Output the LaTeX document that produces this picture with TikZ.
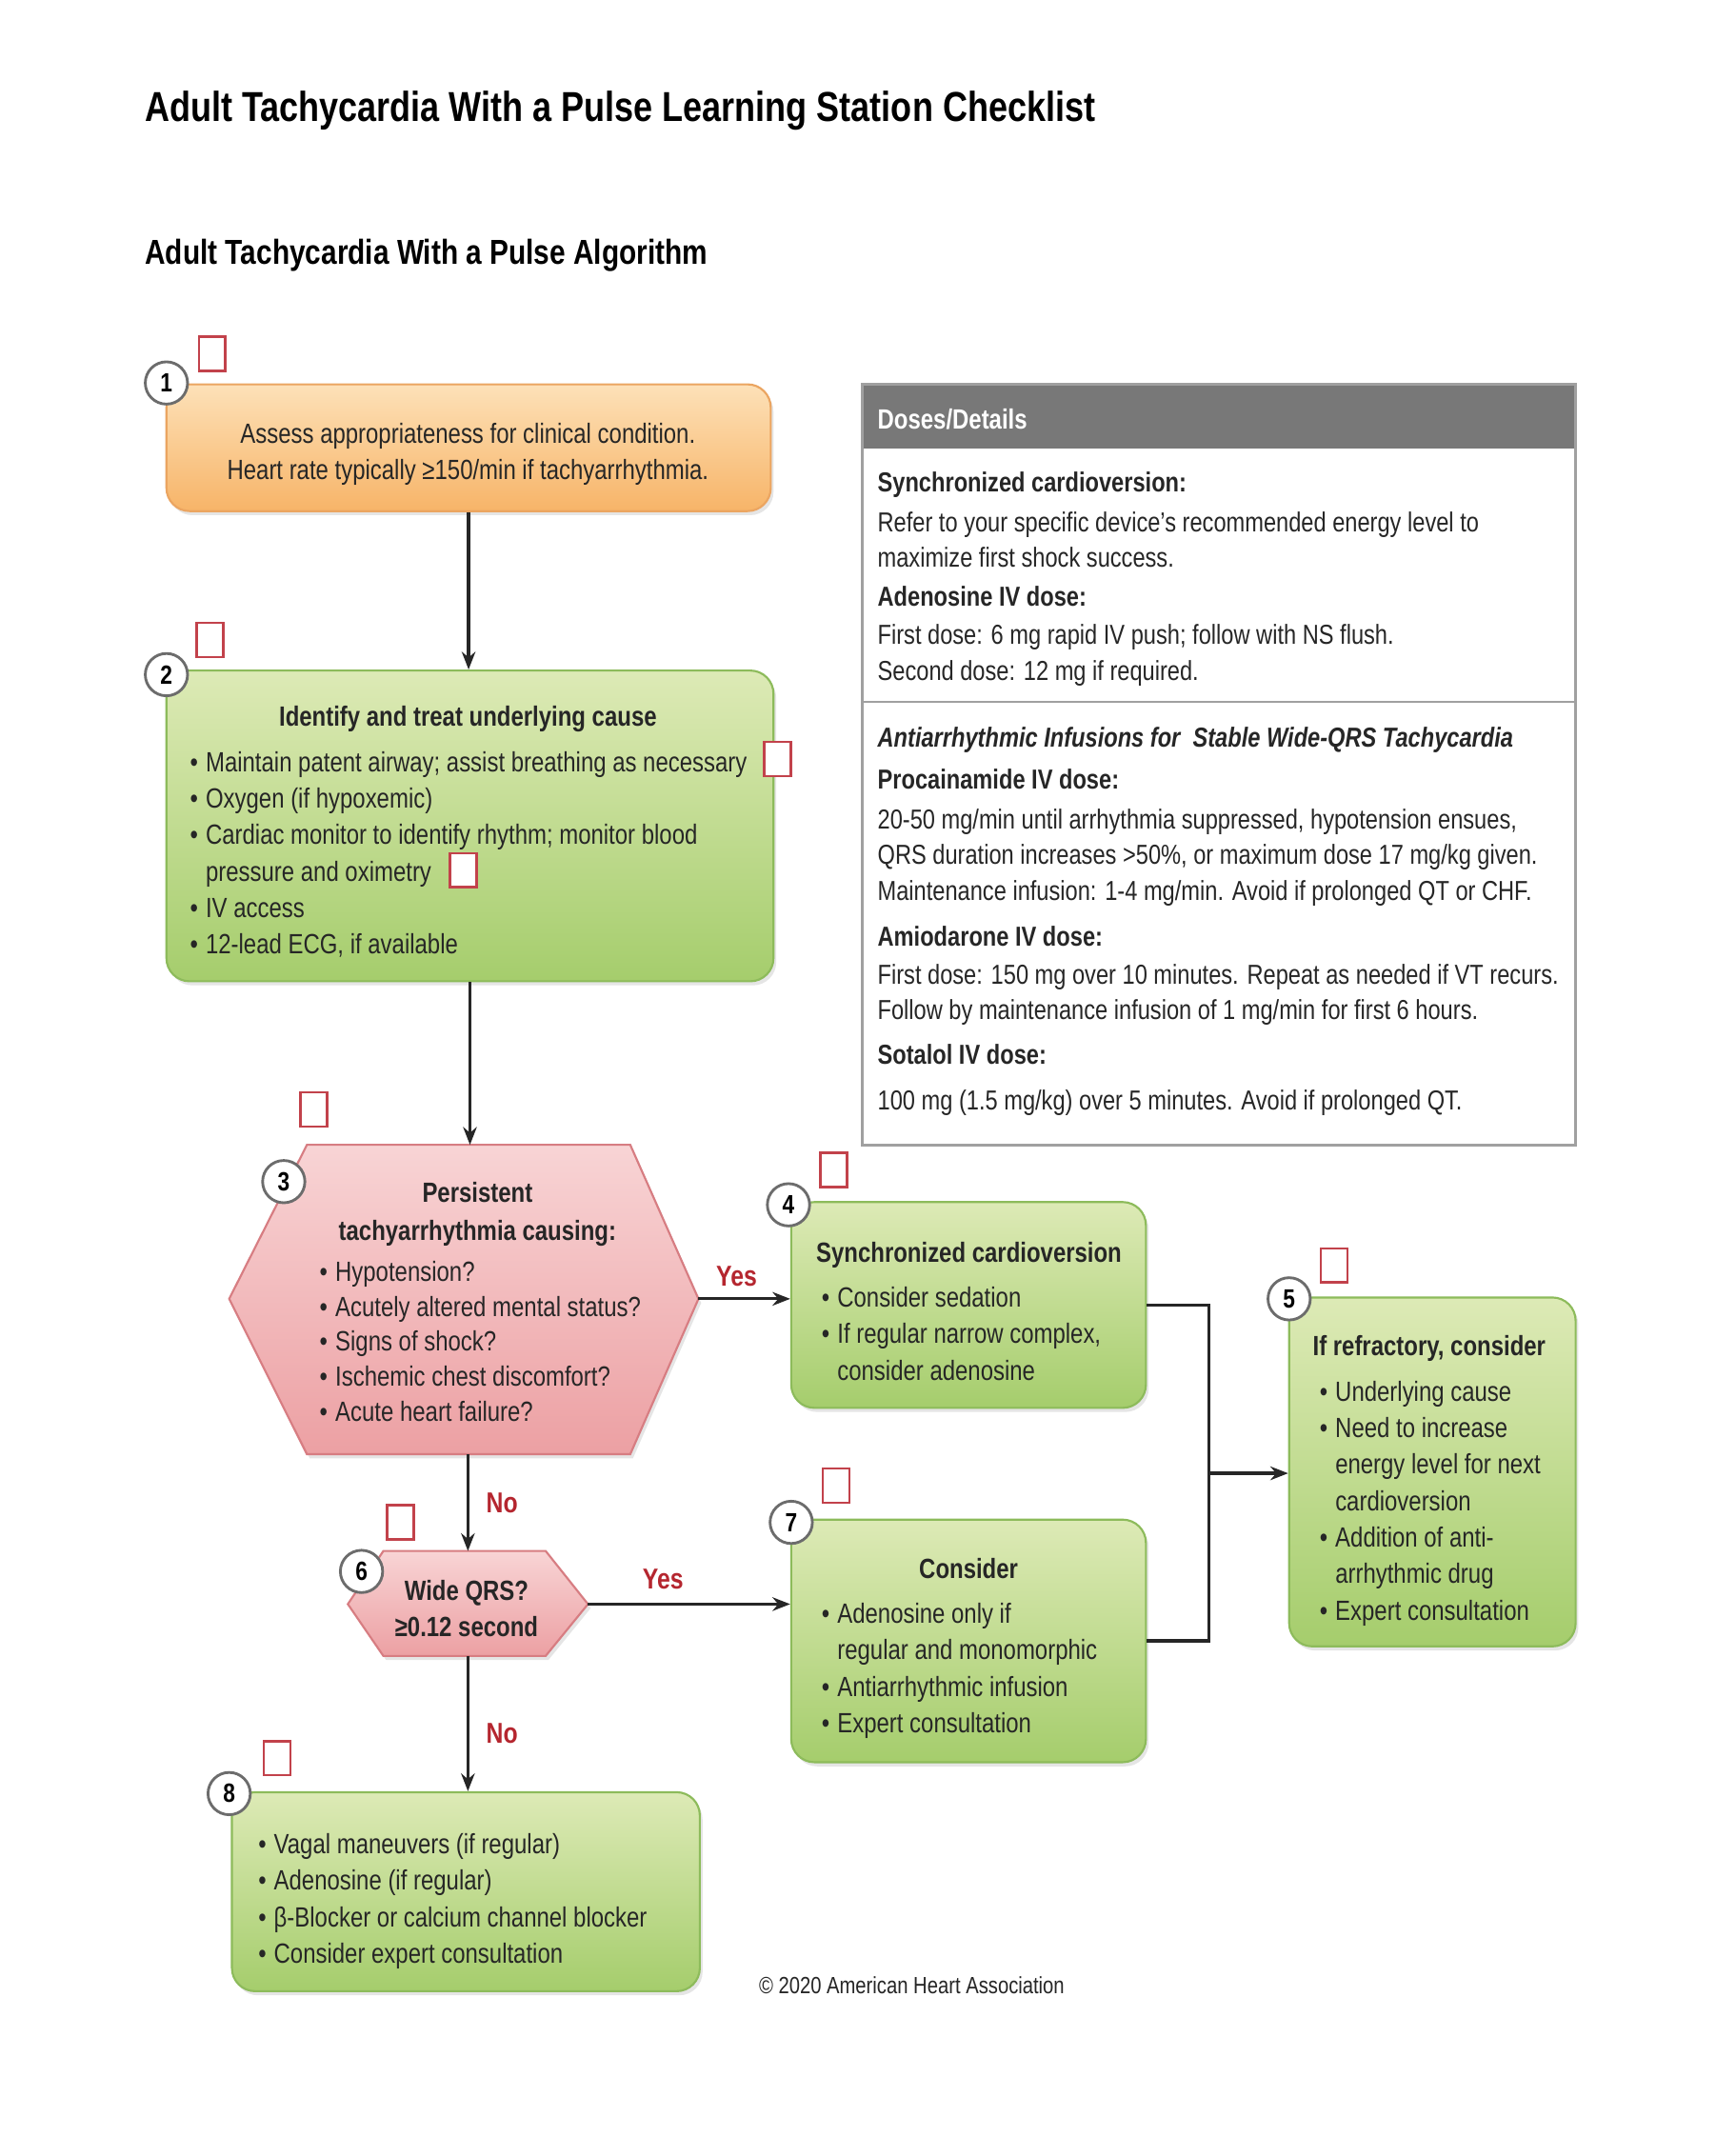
\documentclass[tikz,border=0pt]{standalone}
\usepackage{fontspec}
\setmainfont{Liberation Sans}[FakeStretch=0.82]
\usetikzlibrary{arrows.meta,fit,shadows}

\definecolor{ahared}{HTML}{B5262F}
\definecolor{chkred}{HTML}{C2424B}
\definecolor{orangetop}{HTML}{FDE1B8}
\definecolor{orangebot}{HTML}{F7B468}
\definecolor{orangeline}{HTML}{EBA561}
\definecolor{greentop}{HTML}{DDEAB6}
\definecolor{greenbot}{HTML}{A5CD6C}
\definecolor{greenline}{HTML}{8DBB5B}
\definecolor{pinktop}{HTML}{F8D4D5}
\definecolor{pinkbot}{HTML}{ECA0A3}
\definecolor{pinkline}{HTML}{D77D82}
\definecolor{headgray}{HTML}{787878}
\definecolor{framegray}{HTML}{A0A0A0}
\definecolor{inkgray}{HTML}{262626}

\newcommand{\bodysize}{\fontsize{11.6pt}{15.2pt}\selectfont}
\newcommand{\dosesize}{\fontsize{11.45pt}{15pt}\selectfont}
\newcommand{\bul}{\makebox[2.3mm][l]{•}}
\newcommand{\ind}{\hspace*{2.3mm}}
\newcommand{\firstline}{\rule{0pt}{9pt}}

\begin{document}
\begin{tikzpicture}[x=0.2mm, y=-0.1998mm,
    every node/.style={font=\bodysize, text=inkgray, inner sep=0pt},
    box/.style={rounded corners=3.4mm, line width=0.3mm,
        drop shadow={opacity=0.2, shadow xshift=0.4mm, shadow yshift=-0.6mm}},
    orangebox/.style={box, draw=orangeline, top color=orangetop, bottom color=orangebot},
    greenbox/.style={box, draw=greenline, top color=greentop, bottom color=greenbot},
    hexfill/.style={draw=pinkline, line width=0.3mm, top color=pinktop, bottom color=pinkbot,
        drop shadow={opacity=0.2, shadow xshift=0.4mm, shadow yshift=-0.6mm}},
    num/.style={circle, draw=gray!85!black, line width=0.4mm, fill=white, minimum size=6.2mm,
        font=\bfseries\fontsize{11pt}{11pt}\selectfont, text=black},
    chk/.style={draw=chkred, line width=0.35mm, fill=white, minimum width=3.9mm, minimum height=5mm},
    title/.style={font=\bfseries\bodysize, anchor=base},
    block/.style={align=center, anchor=north, execute at begin node=\firstline},
    list/.style={align=left, anchor=north west, execute at begin node=\firstline},
    answer/.style={font=\bfseries\fontsize{12pt}{12pt}\selectfont, text=ahared, anchor=base},
    line/.style={draw=inkgray, line width=0.45mm},
    arrow/.style={line, -{Stealth[length=2.6mm, width=2mm]}}]

    \path[use as bounding box, fill=white] (0,0) rectangle (1272,1568);

    % headings
    \node[font=\bfseries\fontsize{17.45pt}{20pt}\selectfont, text=black, anchor=base west] (maintitle) at (106,89)
        {Adult Tachycardia With a Pulse Learning Station Checklist};
    \node[font=\bfseries\fontsize{14.45pt}{16pt}\selectfont, text=black, anchor=base west] (subtitle) at (106,194)
        {Adult Tachycardia With a Pulse Algorithm};

    % boxes
    \node[orangebox, fit={(122,282) (565,375)}] (b1) {};
    \node[greenbox, fit={(122,492) (567,720)}] (b2) {};
    \node[greenbox, fit={(580,882) (840,1033)}] (b4) {};
    \node[greenbox, fit={(945,952) (1155,1208)}] (b5) {};
    \node[greenbox, fit={(580,1115) (840,1293)}] (b7) {};
    \node[greenbox, fit={(170,1315) (513,1461)}] (b8) {};

    % decision hexagons
    \coordinate (h3w) at (168,953);  \coordinate (h3e) at (512,953);
    \coordinate (h3n) at (343,840);  \coordinate (h3s) at (343,1067);
    \path[hexfill] (h3w) -- (225,840) -- (462,840) -- (h3e) -- (462,1067) -- (225,1067) -- cycle;
    \coordinate (h6w) at (255,1177); \coordinate (h6e) at (431,1177);
    \coordinate (h6n) at (343,1138); \coordinate (h6s) at (343,1215);
    \path[hexfill] (h6w) -- (281,1138) -- (400,1138) -- (h6e) -- (400,1215) -- (281,1215) -- cycle;

    % box texts
    \node[block] (t1) at (343,310)
        {Assess appropriateness for clinical condition.\\Heart rate typically ≥150/min if tachyarrhythmia.};
    \node[title] (t2) at (343,533) {Identify and treat underlying cause};
    \node[list] (l2) at (139,551) {\bul Maintain patent airway; assist breathing as necessary\\\bul Oxygen (if hypoxemic)\\\bul Cardiac monitor to identify rhythm; monitor blood\\\ind pressure and oximetry\\\bul IV access\\\bul 12-lead ECG, if available};
    \node[block, font=\bfseries\fontsize{11.6pt}{16pt}\selectfont] (t3) at (350,867)
        {Persistent\\tachyarrhythmia causing:};
    \node[list, font=\fontsize{11.6pt}{14.6pt}\selectfont] (l3) at (234,925) {\bul Hypotension?\\\bul Acutely altered mental status?\\\bul Signs of shock?\\\bul Ischemic chest discomfort?\\\bul Acute heart failure?};
    \node[title, anchor=base west] (t4) at (598,926) {Synchronized cardioversion};
    \node[list] (l4) at (602,944) {\bul Consider sedation\\\bul If regular narrow complex,\\\ind consider adenosine};
    \node[title, anchor=base west] (t5) at (962,995) {If refractory, consider};
    \node[list] (l5) at (967,1013) {\bul Underlying cause\\\bul Need to increase\\\ind energy level for next\\\ind cardioversion\\\bul Addition of anti-\\\ind arrhythmic drug\\\bul Expert consultation};
    \node[block, font=\bfseries\fontsize{11.6pt}{15pt}\selectfont] (t6) at (342,1159) {Wide QRS?\\≥0.12 second};
    \node[title] (t7) at (710,1158) {Consider};
    \node[list] (l7) at (602,1176) {\bul Adenosine only if\\\ind regular and monomorphic\\\bul Antiarrhythmic infusion\\\bul Expert consultation};
    \node[list] (l8) at (189,1345) {\bul Vagal maneuvers (if regular)\\\bul Adenosine (if regular)\\\bul β-Blocker or calcium channel blocker\\\bul Consider expert consultation};

    % doses panel
    \node[fill=headgray, fit={(632,282) (1155,329)}] (dhead) {};
    \node[draw=framegray, line width=0.4mm, fit={(632,282) (1155,840)}] (dose) {};
    \draw[framegray, line width=0.4mm] (632,515) -- (1155,515);
    \node[anchor=base west, font=\bfseries\bodysize, text=white] (dheadtext) at (643,315) {Doses/Details};
    \foreach \y/\t [count=\i] in {361/{Synchronized cardioversion:}, 445/{Adenosine IV dose:},
        579/{Procainamide IV dose:}, 694/{Amiodarone IV dose:}, 781/{Sotalol IV dose:}}
        \node[anchor=base west, font=\bfseries\dosesize] (dh\i) at (643,\y) {\t};
    \node[list, font=\dosesize] (d1) at (643,375) {Refer to your specific device’s recommended energy level to\\maximize first shock success.};
    \node[list, font=\dosesize] (d2) at (643,458) {First dose: 6 mg rapid IV push; follow with NS flush.\\Second dose: 12 mg if required.};
    \node[list, font=\bfseries\itshape\dosesize] (d3) at (643,532) {Antiarrhythmic Infusions for \ Stable Wide-QRS Tachycardia};
    \node[list, font=\dosesize] (d4) at (643,593) {20-50 mg/min until arrhythmia suppressed, hypotension ensues,\\QRS duration increases >50\%, or maximum dose 17 mg/kg given.\\Maintenance infusion: 1-4 mg/min. Avoid if prolonged QT or CHF.};
    \node[list, font=\dosesize] (d5) at (643,707) {First dose: 150 mg over 10 minutes. Repeat as needed if VT recurs.\\Follow by maintenance infusion of 1 mg/min for first 6 hours.};
    \node[list, font=\dosesize] (d6) at (643,798) {100 mg (1.5 mg/kg) over 5 minutes. Avoid if prolonged QT.};

    % connectors
    \draw[arrow] (b1.south) -- (b1.south |- b2.north);
    \draw[arrow] (b2.south) -- (b2.south |- h3n);
    \draw[arrow] (h3e) -- (h3e -| b4.west);
    \node[answer] (yes1) at (540,944) {Yes};
    \draw[arrow] (h3s) -- (h6n);
    \node[answer] (no1) at (368,1110) {No};
    \draw[arrow] (h6e) -- (h6e -| b7.west);
    \node[answer] (yes2) at (486,1166) {Yes};
    \draw[arrow] (h6s) -- (h6s |- b8.north);
    \node[answer] (no2) at (368,1279) {No};
    \coordinate (merge) at (886,1081);
    \draw[line] (b4.east) -| (merge) |- (b7.east);
    \draw[arrow] (merge) -- (merge -| b5.west);

    % step numbers and check boxes
    \foreach \i/\x/\y in {1/122/281, 2/122/495, 3/208/867, 4/578/884, 5/945/953, 6/265/1153, 7/580/1117, 8/168/1316}
        \node[num] (n\i) at (\x,\y) {\i};
    \foreach \k/\x/\y in {1/155.5/259.5, 2/154/469.5, 2a/570/557, 2b/339.5/638.5, 3/230/814,
        4/611/858.5, 5/978/928.5, 6/293.5/1117, 7/613/1090, 8/203/1290}
        \node[chk] (k\k) at (\x,\y) {};

    \node[anchor=base west, font=\fontsize{9.8pt}{12pt}\selectfont] (copy) at (556,1463) {© 2020 American Heart Association};
\end{tikzpicture}
\end{document}
